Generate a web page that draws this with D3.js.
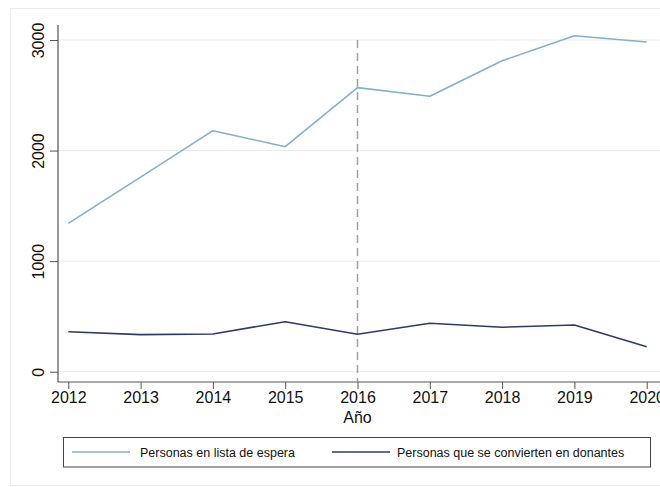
<!DOCTYPE html>
<html>
<head>
<meta charset="utf-8">
<script src="https://cdn.jsdelivr.net/npm/d3@7"></script>
<style>
  html, body { margin: 0; padding: 0; background: #fff; }
  svg { display: block; font-family: "Liberation Sans", Arial, Helvetica, sans-serif; }
</style>
</head>
<body>
<svg id="chart" width="660" height="487"></svg>
<script>
// Annual figures, 2012–2020
const years = [2012, 2013, 2014, 2015, 2016, 2017, 2018, 2019, 2020];
const waitingList = [1342, 1760, 2180, 2035, 2569, 2491, 2812, 3039, 2982];
const donors = [362, 335, 341, 452, 338, 438, 402, 422, 226];
const yTicks = [0, 1000, 2000, 3000];
const seriesNames = ["Personas en lista de espera", "Personas que se convierten en donantes"];
const seriesColors = ["#84b0c8", "#2f3b68"];
const markerYear = 2016;
const xTitle = "Año";

const svg = d3.select("#chart");

// outer frame
svg.append("rect")
  .attr("x", 10.5).attr("y", 8.5)
  .attr("width", 660).attr("height", 477)
  .attr("fill", "#fff").attr("stroke", "#ececec").attr("stroke-width", 1);

const x = d3.scaleLinear().domain([2012, 2020]).range([68.3, 646.7]);
const y = d3.scaleLinear().domain([0, 3000]).range([371.7, 40]);
const axisX = 58, axisY = 382, plotTop = 25, plotRight = 662;

// horizontal grid
svg.append("g").selectAll("line").data(yTicks).join("line")
  .attr("x1", axisX).attr("x2", plotRight)
  .attr("y1", d => y(d)).attr("y2", d => y(d))
  .attr("stroke", "#ebebeb").attr("stroke-width", 1);

// y axis
const gy = svg.append("g")
  .attr("transform", `translate(${axisX},0)`)
  .call(d3.axisLeft(y).tickValues(yTicks).tickSize(8).tickSizeOuter(0).tickFormat(d3.format("d")));
gy.select(".domain").remove();
gy.selectAll(".tick line").attr("stroke", "#555");
gy.selectAll(".tick text")
  .attr("font-size", 16).attr("fill", "#111")
  .attr("x", 0).attr("dy", null)
  .attr("text-anchor", "middle")
  .attr("transform", "translate(-14,0) rotate(-90)");
svg.append("line")
  .attr("x1", axisX).attr("x2", axisX)
  .attr("y1", plotTop).attr("y2", axisY)
  .attr("stroke", "#555").attr("stroke-width", 1.2);

// x axis
const gx = svg.append("g")
  .attr("transform", `translate(0,${axisY})`)
  .call(d3.axisBottom(x).tickValues(years).tickSize(7).tickSizeOuter(0).tickFormat(d3.format("d")));
gx.select(".domain").remove();
gx.selectAll(".tick line").attr("stroke", "#555");
gx.selectAll(".tick text").attr("font-size", 16).attr("fill", "#111").attr("y", 10).attr("dy", "0.71em");
svg.append("line")
  .attr("x1", axisX).attr("x2", plotRight)
  .attr("y1", axisY).attr("y2", axisY)
  .attr("stroke", "#555").attr("stroke-width", 1.2);

svg.append("text")
  .attr("x", x(markerYear)).attr("y", 423)
  .attr("text-anchor", "middle").attr("font-size", 16).attr("fill", "#111")
  .text(xTitle);

// reference line at the marker year
svg.append("line")
  .attr("x1", x(markerYear)).attr("x2", x(markerYear))
  .attr("y1", y(3000)).attr("y2", axisY)
  .attr("stroke", "#a0a0a0").attr("stroke-width", 1.5)
  .attr("stroke-dasharray", "8,5");

// series lines
const line = d3.line().x((d, i) => x(years[i])).y(d => y(d));
[waitingList, donors].forEach((vals, k) => {
  svg.append("path")
    .datum(vals)
    .attr("d", line)
    .attr("fill", "none")
    .attr("stroke", seriesColors[k])
    .attr("stroke-width", 1.6)
    .attr("stroke-linejoin", "round");
});

// legend
svg.append("rect")
  .attr("x", 63.5).attr("y", 437.5).attr("width", 587).attr("height", 29.5)
  .attr("fill", "#fff").attr("stroke", "#444").attr("stroke-width", 1);
const legendItems = [
  { x1: 72, x2: 130, tx: 140 },
  { x1: 332, x2: 390, tx: 397 }
];
legendItems.forEach((it, k) => {
  svg.append("line")
    .attr("x1", it.x1).attr("x2", it.x2).attr("y1", 452).attr("y2", 452)
    .attr("stroke", seriesColors[k]).attr("stroke-width", 1.6);
  svg.append("text")
    .attr("x", it.tx).attr("y", 456.5)
    .attr("font-size", 12.5).attr("fill", "#111")
    .text(seriesNames[k]);
});
</script>
</body>
</html>
